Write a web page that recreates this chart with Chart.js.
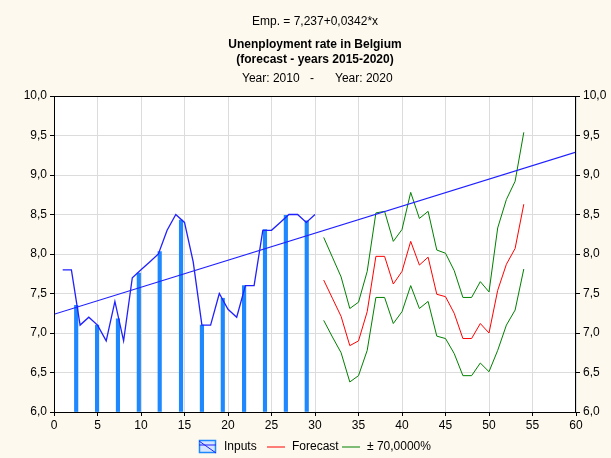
<!DOCTYPE html>
<html>
<head>
<meta charset="utf-8">
<script src="https://cdn.jsdelivr.net/npm/chart.js@4.4.0/dist/chart.umd.min.js"></script>
<style>
  html, body { margin: 0; padding: 0; background: #fdf9ee; }
  #wrap { width: 611px; height: 458px; }
</style>
</head>
<body>
<div id="wrap"><canvas id="chart" width="611" height="458"></canvas></div>
<script>
// regression fitted to the inputs (from the chart header)
const intercept = 7.237;
const slope = 0.0342;

const inputX = [1, 2, 3, 4, 5, 6, 7, 8, 9, 10, 11, 12, 13, 14, 15,
                16, 17, 18, 19, 20, 21, 22, 23, 24, 25, 26, 27, 28, 29, 30];
const inputValues = [7.8, 7.8, 7.1, 7.2, 7.1, 6.9, 7.4, 6.9, 7.7, 7.8, 7.9, 8.0, 8.3, 8.5, 8.4,
                     7.9, 7.1, 7.1, 7.5, 7.3, 7.2, 7.6, 7.6, 8.3, 8.3, 8.4, 8.5, 8.5, 8.4, 8.5];

// spikes drawn under the input line
const spikeX = [2.55, 4.95, 7.35, 9.75, 12.15, 14.6, 17.0, 19.4, 21.85, 24.25, 26.65, 29.05];
const spikeValues = [7.35, 7.1, 7.18, 7.76, 8.03, 8.43, 7.1, 7.44, 7.6, 8.31, 8.49, 8.42];

const forecastX = [31, 32, 33, 34, 35, 36, 37, 38, 39, 40, 41, 42,
                   43, 44, 45, 46, 47, 48, 49, 50, 51, 52, 53, 54];
const forecast = [7.67, 7.44, 7.21, 6.84, 6.90, 7.27, 7.97, 7.97, 7.62, 7.78, 8.16, 7.86,
                  7.96, 7.49, 7.46, 7.25, 6.93, 6.93, 7.12, 7.00, 7.54, 7.87, 8.07, 8.63];
const upper = [8.21, 7.96, 7.71, 7.31, 7.39, 7.78, 8.52, 8.54, 8.16, 8.31, 8.78, 8.45,
               8.54, 8.05, 8.01, 7.79, 7.45, 7.45, 7.65, 7.52, 8.33, 8.69, 8.92, 9.54];
const lower = [7.16, 6.95, 6.75, 6.38, 6.46, 6.78, 7.45, 7.45, 7.12, 7.27, 7.60, 7.31,
               7.40, 6.96, 6.93, 6.74, 6.46, 6.46, 6.62, 6.51, 6.78, 7.10, 7.29, 7.81];

const xRange = [0, 60];
const yRange = [6, 10];

const headerLine = 'Emp. = 7,237+0,0342*x';
const titleLines = ['Unenployment rate in Belgium', '(forecast - years 2015-2020)'];
const periodFrom = 'Year: 2010';
const periodTo = 'Year: 2020';

const FONT = '"Liberation Sans", Arial, sans-serif';

const pts = (xs, ys) => xs.map((x, i) => ({ x: x, y: ys[i] }));
const fmt = v => v.toFixed(1).replace('.', ',');

const decorPlugin = {
    id: 'decor',
    beforeDraw(chart) {
        const { ctx, chartArea: a } = chart;
        ctx.save();
        ctx.fillStyle = '#ffffff';
        ctx.fillRect(a.left, a.top, a.right - a.left, a.bottom - a.top);
        ctx.restore();
    },
    afterDraw(chart) {
        const { ctx, chartArea: a } = chart;
        const cx = (a.left + a.right) / 2;
        ctx.save();
        ctx.strokeStyle = '#000';
        ctx.lineWidth = 1;
        ctx.strokeRect(a.left + 0.5, a.top + 0.5, a.right - a.left - 1, a.bottom - a.top);

        ctx.fillStyle = '#000';
        ctx.textBaseline = 'middle';
        ctx.textAlign = 'center';
        ctx.font = '12px ' + FONT;
        ctx.fillText(headerLine, cx, 22);
        ctx.font = 'bold 12px ' + FONT;
        ctx.fillText(titleLines[0], cx, 45);
        ctx.fillText(titleLines[1], cx, 60);
        ctx.font = '12px ' + FONT;
        ctx.textAlign = 'left';
        ctx.fillText(periodFrom, 242, 79);
        ctx.fillText(periodTo, 335, 79);
        ctx.textAlign = 'center';
        ctx.fillText('-', 312, 79);

        // legend
        const ly = 447;
        const sets = chart.data.datasets;
        const inputs = sets.find(d => d.label === 'Inputs');
        const fc = sets.find(d => d.label === 'Forecast');
        const band = sets.find(d => d.label === '± 70,0000%');
        ctx.textAlign = 'left';
        ctx.fillStyle = '#d6e6ff';
        ctx.fillRect(199, ly - 7, 17, 13);
        ctx.strokeStyle = inputs.backgroundColor;
        ctx.lineWidth = 1.5;
        ctx.strokeRect(199.5, ly - 6.5, 16, 12);
        ctx.strokeStyle = '#2020ff';
        ctx.lineWidth = 1;
        ctx.beginPath();
        ctx.moveTo(199, ly - 2); ctx.lineTo(216, ly - 2);
        ctx.moveTo(199, ly - 6); ctx.lineTo(216, ly + 6);
        ctx.stroke();
        ctx.fillStyle = '#000';
        ctx.fillText(inputs.label, 224, ly);

        ctx.strokeStyle = fc.borderColor;
        ctx.beginPath(); ctx.moveTo(267, ly); ctx.lineTo(285, ly); ctx.stroke();
        ctx.fillText(fc.label, 292, ly);

        ctx.strokeStyle = band.borderColor;
        ctx.beginPath(); ctx.moveTo(342, ly); ctx.lineTo(360, ly); ctx.stroke();
        ctx.fillText(band.label, 367, ly);
        ctx.restore();
    }
};

const yAxis = (position, width, grid) => ({
    type: 'linear',
    position: position,
    min: yRange[0],
    max: yRange[1],
    ticks: {
        stepSize: 0.5,
        color: '#000',
        font: { family: FONT, size: 12 },
        padding: 3,
        callback: v => fmt(v)
    },
    grid: {
        color: '#dcdcdc',
        drawOnChartArea: grid,
        tickLength: 4,
        tickColor: '#000'
    },
    border: { display: false },
    afterFit: s => { s.width = width; }
});

new Chart(document.getElementById('chart'), {
    data: {
        datasets: [
            {
                type: 'line',
                label: 'Inputs line',
                data: pts(inputX, inputValues),
                borderColor: '#2020ff',
                borderWidth: 1.3,
                pointRadius: 0,
                tension: 0,
                order: 2
            },
            {
                type: 'line',
                label: 'Regression',
                data: [{ x: xRange[0], y: intercept + slope * xRange[0] },
                       { x: xRange[1], y: intercept + slope * xRange[1] }],
                borderColor: '#2020ff',
                borderWidth: 1.2,
                pointRadius: 0,
                order: 1
            },
            {
                type: 'line',
                label: 'Forecast',
                data: pts(forecastX, forecast),
                borderColor: '#ff0000',
                borderWidth: 1,
                pointRadius: 0,
                tension: 0,
                order: 2
            },
            {
                type: 'line',
                label: '± 70,0000%',
                data: pts(forecastX, upper),
                borderColor: '#008000',
                borderWidth: 1,
                pointRadius: 0,
                tension: 0,
                order: 2
            },
            {
                type: 'line',
                label: 'lower',
                data: pts(forecastX, lower),
                borderColor: '#008000',
                borderWidth: 1,
                pointRadius: 0,
                tension: 0,
                order: 2
            },
            {
                type: 'bar',
                label: 'Inputs',
                data: pts(spikeX, spikeValues),
                backgroundColor: '#1e88ff',
                barThickness: 3.5,
                grouped: false,
                base: yRange[0],
                order: 5
            }
        ]
    },
    options: {
        responsive: false,
        animation: false,
        layout: { padding: { top: 96, left: 0, right: 0, bottom: 0 } },
        plugins: {
            legend: { display: false },
            title: { display: false },
            tooltip: { enabled: false }
        },
        scales: {
            x: {
                type: 'linear',
                min: xRange[0],
                max: xRange[1],
                offset: false,
                ticks: {
                    stepSize: 5,
                    color: '#000',
                    font: { family: FONT, size: 12 },
                    padding: 2,
                    maxRotation: 0
                },
                grid: { color: '#dcdcdc', tickLength: 4, tickColor: '#000', offset: false },
                border: { display: false },
                afterFit: s => { s.height = 46; }
            },
            y: yAxis('left', 54, true),
            y2: yAxis('right', 35, false)
        }
    },
    plugins: [decorPlugin]
});
</script>
</body>
</html>
